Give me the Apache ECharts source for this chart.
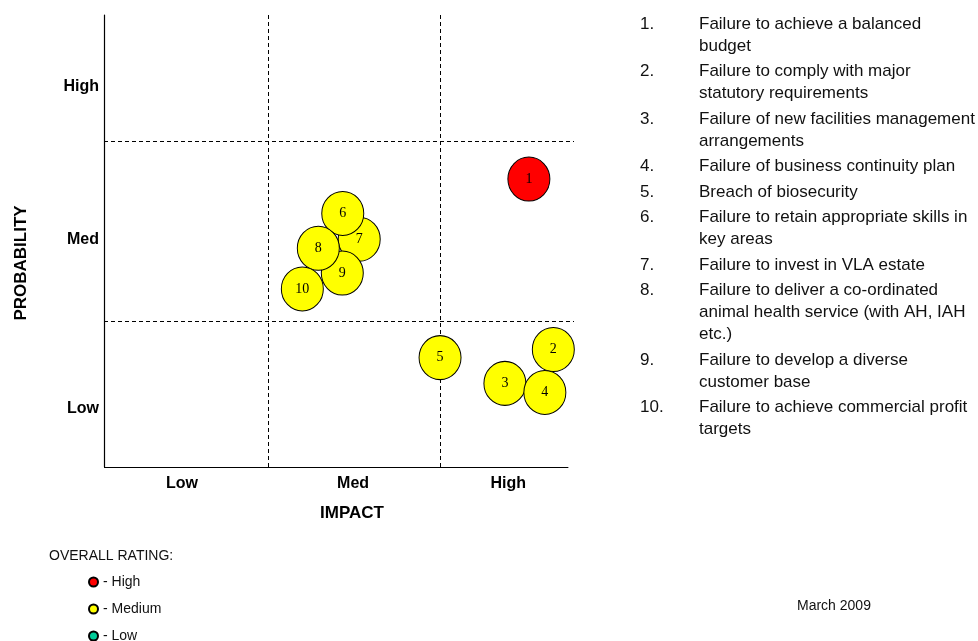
<!DOCTYPE html>
<html>
<head>
<meta charset="utf-8">
<title>Risk Map</title>
<script src="https://cdn.jsdelivr.net/npm/echarts@6/dist/echarts.min.js"></script>
<style>
  html, body { margin: 0; padding: 0; background: #fff; }
  #chart { width: 978px; height: 641px; }
</style>
</head>
<body>
<div id="chart"></div>
<script>
// Risk register entries: id, impact score, probability score, overall rating
const riskIds     = [1, 2, 3, 4, 5, 6, 7, 8, 9, 10];
const impact      = [90.4, 95.6, 85.3, 93.8, 71.5, 50.8, 54.3, 45.6, 50.7, 42.2];
const probability = [63.7, 26.0, 18.5, 16.5, 24.2, 56.1, 50.4, 48.4, 42.9, 39.4];
const rating      = ['High', 'Medium', 'Medium', 'Medium', 'Medium', 'Medium', 'Medium', 'Medium', 'Medium', 'Medium'];

const riskNames = [
  'Failure to achieve a balanced\nbudget',
  'Failure to comply with major\nstatutory requirements',
  'Failure of new facilities management\narrangements',
  'Failure of business continuity plan',
  'Breach of biosecurity',
  'Failure to retain appropriate skills in\nkey areas',
  'Failure to invest in VLA estate',
  'Failure to deliver a co-ordinated\nanimal health service (with AH, IAH\netc.)',
  'Failure to develop a diverse\ncustomer base',
  'Failure to achieve commercial profit\ntargets'
];

// Axis bands: label names and where they sit on the 0-100 scales
const levelNames       = ['Low', 'Med', 'High'];
const impactLabelPos   = [16.6, 53.0, 86.0];
const probLabelPos     = [12.9, 50.3, 84.1];
const impactBandEdges  = [34.9, 71.5];
const probBandEdges    = [32.3, 72.1];
const impactAxisEnd    = 98.8;

const ratingLevels = ['High', 'Medium', 'Low'];
const ratingColors = { High: '#ff0000', Medium: '#ffff00', Low: '#00cc99' };

// Stacking order of the bubbles (later ones drawn on top)
const drawOrder = [1, 2, 3, 5, 7, 9, 6, 4, 8, 10];

const SANS = 'Liberation Sans, Arial, sans-serif';
const SERIF = 'Liberation Serif, Times New Roman, serif';

function pointsFor(level) {
  return drawOrder
    .map(id => riskIds.indexOf(id))
    .filter(i => rating[i] === level)
    .map(i => ({ value: [impact[i], probability[i]], name: String(riskIds[i]) }));
}

const bandLines = [
  ...impactBandEdges.map(v => ({ xAxis: v })),
  ...probBandEdges.map(v => ({ yAxis: v }))
];

const series = ratingLevels.map((level, k) => ({
  name: level,
  type: 'scatter',
  symbol: 'circle',
  symbolSize: [42, 44],
  data: pointsFor(level),
  itemStyle: { color: ratingColors[level], borderColor: '#000', borderWidth: 1, opacity: 1 },
  label: {
    show: true,
    position: 'inside',
    formatter: p => p.name,
    fontFamily: SERIF,
    fontSize: 14,
    color: '#000'
  },
  emphasis: { disabled: true },
  z: 3,
  markLine: k === 0 ? {
    silent: true,
    z: 1,
    symbol: 'none',
    label: { show: false },
    animation: false,
    data: [
      ...bandLines.map(d => Object.assign({ lineStyle: { type: [4, 3], color: '#000', width: 1 } }, d)),
      [
        { coord: [0, 0], lineStyle: { type: 'solid', color: '#000', width: 1.2 } },
        { coord: [impactAxisEnd, 0] }
      ]
    ]
  } : undefined
}));

// Numbered list of risk descriptions
const listGraphics = [];
let listTop = 13;
riskNames.forEach((txt, i) => {
  const lines = txt.split('\n').length;
  listGraphics.push({
    type: 'text', left: 640, top: listTop,
    style: { text: riskIds[i] + '.', font: '17px ' + SANS, fill: '#111', lineHeight: 22 }
  });
  listGraphics.push({
    type: 'text', left: 699, top: listTop,
    style: { text: txt, font: '17px ' + SANS, fill: '#111', lineHeight: 22 }
  });
  listTop += lines * 22 + 3.5;
});

const chart = echarts.init(document.getElementById('chart'), null, { renderer: 'canvas' });
chart.setOption({
  animation: false,
  backgroundColor: '#fff',
  grid: { left: 104, top: 15, width: 470, height: 452 },
  xAxis: {
    type: 'value', min: 0, max: 100,
    axisLine: { show: false },
    axisTick: { show: false },
    splitLine: { show: false },
    axisLabel: {
      customValues: impactLabelPos,
      formatter: v => levelNames[impactLabelPos.indexOf(v)],
      fontFamily: SANS, fontWeight: 'bold', fontSize: 16, color: '#000', margin: 9
    }
  },
  yAxis: {
    type: 'value', min: 0, max: 100,
    axisLine: { show: true, onZero: false, lineStyle: { color: '#000', width: 1.2 } },
    axisTick: { show: false },
    splitLine: { show: false },
    axisLabel: {
      customValues: probLabelPos,
      formatter: v => levelNames[probLabelPos.indexOf(v)],
      fontFamily: SANS, fontWeight: 'bold', fontSize: 16, color: '#000', margin: 5
    }
  },
  legend: {
    orient: 'horizontal',
    left: 88, top: 574,
    width: 80,
    padding: 0,
    itemWidth: 9, itemHeight: 9, itemGap: 11,
    icon: 'circle',
    selectedMode: false,
    data: ratingLevels,
    formatter: n => '- ' + n,
    textStyle: { fontFamily: SANS, fontSize: 14, lineHeight: 16, color: '#111' }
  },
  graphic: [
    {
      type: 'text', x: 352, y: 513,
      style: { text: 'IMPACT', font: 'bold 17px ' + SANS, fill: '#000', align: 'center', verticalAlign: 'middle' }
    },
    {
      type: 'text', x: 21, y: 263, rotation: Math.PI / 2,
      style: { text: 'PROBABILITY', font: 'bold 17px ' + SANS, fill: '#000', align: 'center', verticalAlign: 'middle' }
    },
    {
      type: 'text', x: 49, y: 556,
      style: { text: 'OVERALL RATING:', font: '14px ' + SANS, fill: '#111', align: 'left', verticalAlign: 'middle' }
    },
    {
      type: 'text', x: 797, y: 606,
      style: { text: 'March 2009', font: '14px ' + SANS, fill: '#111', align: 'left', verticalAlign: 'middle' }
    },
    ...listGraphics
  ],
  series: series
});
</script>
</body>
</html>
